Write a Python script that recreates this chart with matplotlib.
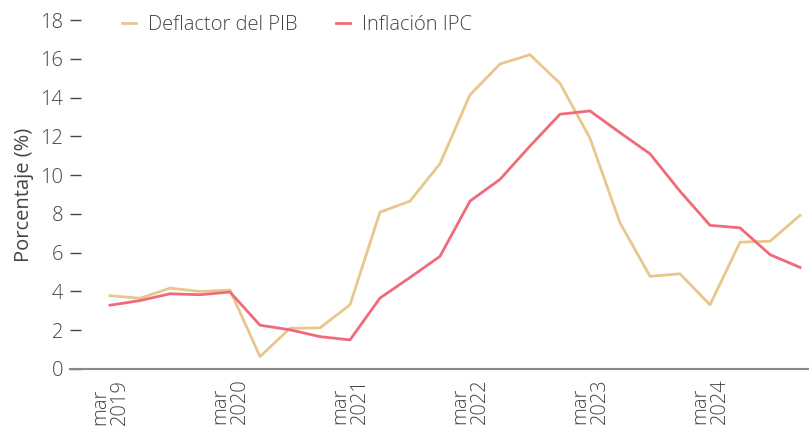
import matplotlib
matplotlib.use("Agg")
import matplotlib.pyplot as plt

quarters = ["mar 2019", "jun 2019", "sep 2019", "dic 2019",
            "mar 2020", "jun 2020", "sep 2020", "dic 2020",
            "mar 2021", "jun 2021", "sep 2021", "dic 2021",
            "mar 2022", "jun 2022", "sep 2022", "dic 2022",
            "mar 2023", "jun 2023", "sep 2023", "dic 2023",
            "mar 2024", "jun 2024", "sep 2024", "dic 2024"]

deflactor = [3.78, 3.65, 4.17, 4.00, 4.07, 0.64, 2.10, 2.12, 3.31, 8.09,
             8.66, 10.59, 14.14, 15.73, 16.21, 14.73, 11.9, 7.54, 4.78, 4.91,
             3.31, 6.54, 6.59, 7.92]
ipc = [3.29, 3.53, 3.88, 3.83, 3.97, 2.26, 2.02, 1.67, 1.50, 3.66,
       4.72, 5.81, 8.66, 9.78, 11.5, 13.14, 13.31, 12.19, 11.1, 9.17,
       7.41, 7.28, 5.90, 5.24]

yticks = [0, 2, 4, 6, 8, 10, 12, 14, 16, 18]
xtick_labels = ["mar\n2019", "mar\n2020", "mar\n2021", "mar\n2022", "mar\n2023", "mar\n2024"]

plt.rcParams['font.family'] = ['Open Sans', 'DejaVu Sans']
plt.rcParams['font.weight'] = 'light'
text_color = "#444444"
fs = 14.5

fig = plt.figure(figsize=(8.09, 4.29), dpi=100)
W, H = 809, 429
ax = fig.add_axes([70 / W, (H - 369) / H, (809 - 70) / W, (369 - 20) / H])

x = list(range(len(quarters)))
ax.plot(x, deflactor, color="#E8C78C", lw=2.0, label="Deflactor del PIB", clip_on=False)
ax.plot(x, ipc, color="#F06A79", lw=2.0, label="Inflación IPC", clip_on=False)

ax.set_xlim(-1.333, 23.3)
ax.set_ylim(0, 18)
ax.set_yticks(yticks)
ax.set_yticklabels([str(v) for v in yticks], fontsize=fs, color=text_color)
ax.tick_params(axis='y', direction='in', length=8, width=1, color=text_color, pad=5)

ax.set_xticks([0, 4, 8, 12, 16, 20])
ax.set_xticklabels(xtick_labels, rotation=90, fontsize=fs, color=text_color,
                   multialignment='left', linespacing=1.0)
ax.tick_params(axis='x', length=0, pad=7)

for s in ['top', 'right', 'left']:
    ax.spines[s].set_visible(False)
ax.spines['bottom'].set_color("#888888")
ax.spines['bottom'].set_linewidth(1.5)

ax.set_ylabel("Porcentaje (%)", fontsize=fs, color=text_color, labelpad=4)

leg = fig.legend(loc='upper left', bbox_to_anchor=(104 / W, 1 + 3 / H), ncol=2,
                 frameon=False, fontsize=fs, handlelength=0.7, handletextpad=0.6,
                 columnspacing=1.9)
for t in leg.get_texts():
    t.set_color(text_color)

fig.savefig("out.png", dpi=100)
